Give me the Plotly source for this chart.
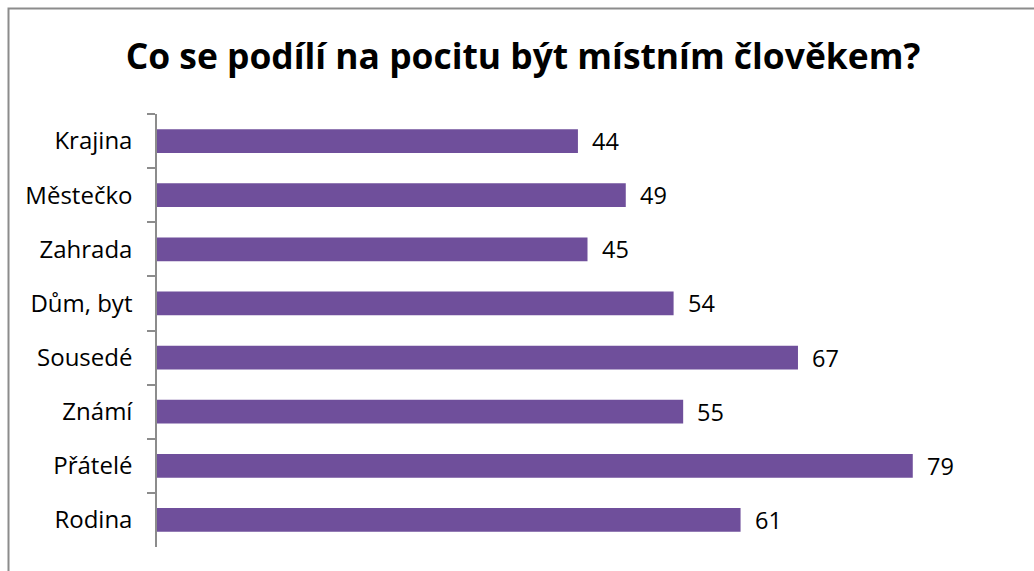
import plotly.graph_objects as go

categories = ["Krajina", "Městečko", "Zahrada", "Dům, byt", "Sousedé", "Známí", "Přátelé", "Rodina"]
values = [44, 49, 45, 54, 67, 55, 79, 61]
title_text = "Co se podílí na pocitu být místním člověkem?"

W, H = 1034, 571
ml, mr, mt, mb = 157, 16, 114, 24
pw, ph = W - ml - mr, H - mt - mb
FONT = "Open Sans"

def px_to_paper_x(px):
    return (px - ml) / pw

def px_to_paper_y(py):
    return (H - mb - py) / ph

fig = go.Figure()
fig.add_trace(go.Bar(
    y=categories, x=values, orientation="h",
    marker=dict(color="#6f4f9b", line=dict(width=0)),
    width=0.44,
    hoverinfo="x+y",
))

annotations = [
    dict(x=v, y=c, xref="x", yref="y", text=str(v), showarrow=False,
         xanchor="left", yanchor="middle", xshift=12,
         font=dict(size=23.5, color="#000000", family=FONT))
    for c, v in zip(categories, values)
]

fig.update_layout(
    width=W, height=H,
    margin=dict(l=ml, r=mr, t=mt, b=mb),
    paper_bgcolor="white", plot_bgcolor="white",
    font=dict(family=FONT, size=23.5, color="#000000"),
    title=dict(text="<b>" + title_text + "</b>", x=523 / W, xref="container", xanchor="center",
               y=1 - 57 / H, yref="container", yanchor="middle",
               font=dict(size=35.4, family=FONT, color="#000000")),
    showlegend=False,
    annotations=annotations,
    shapes=[dict(type="rect", xref="paper", yref="paper",
                 x0=px_to_paper_x(8.5), x1=px_to_paper_x(W + 20),
                 y0=px_to_paper_y(H + 20), y1=px_to_paper_y(8.5),
                 line=dict(color="#8c8c8c", width=2), fillcolor="rgba(0,0,0,0)", layer="below")],
)
fig.update_xaxes(visible=False, range=[0, 90])
fig.update_yaxes(autorange="reversed", showline=True, linecolor="#8c8c8c", linewidth=1.5,
                 ticks="outside", tickson="boundaries", ticklen=8, tickcolor="#8c8c8c", tickwidth=1.5,
                 showgrid=False, ticklabelstandoff=18, tickfont=dict(size=24, family=FONT))

fig.write_html("out.html")
